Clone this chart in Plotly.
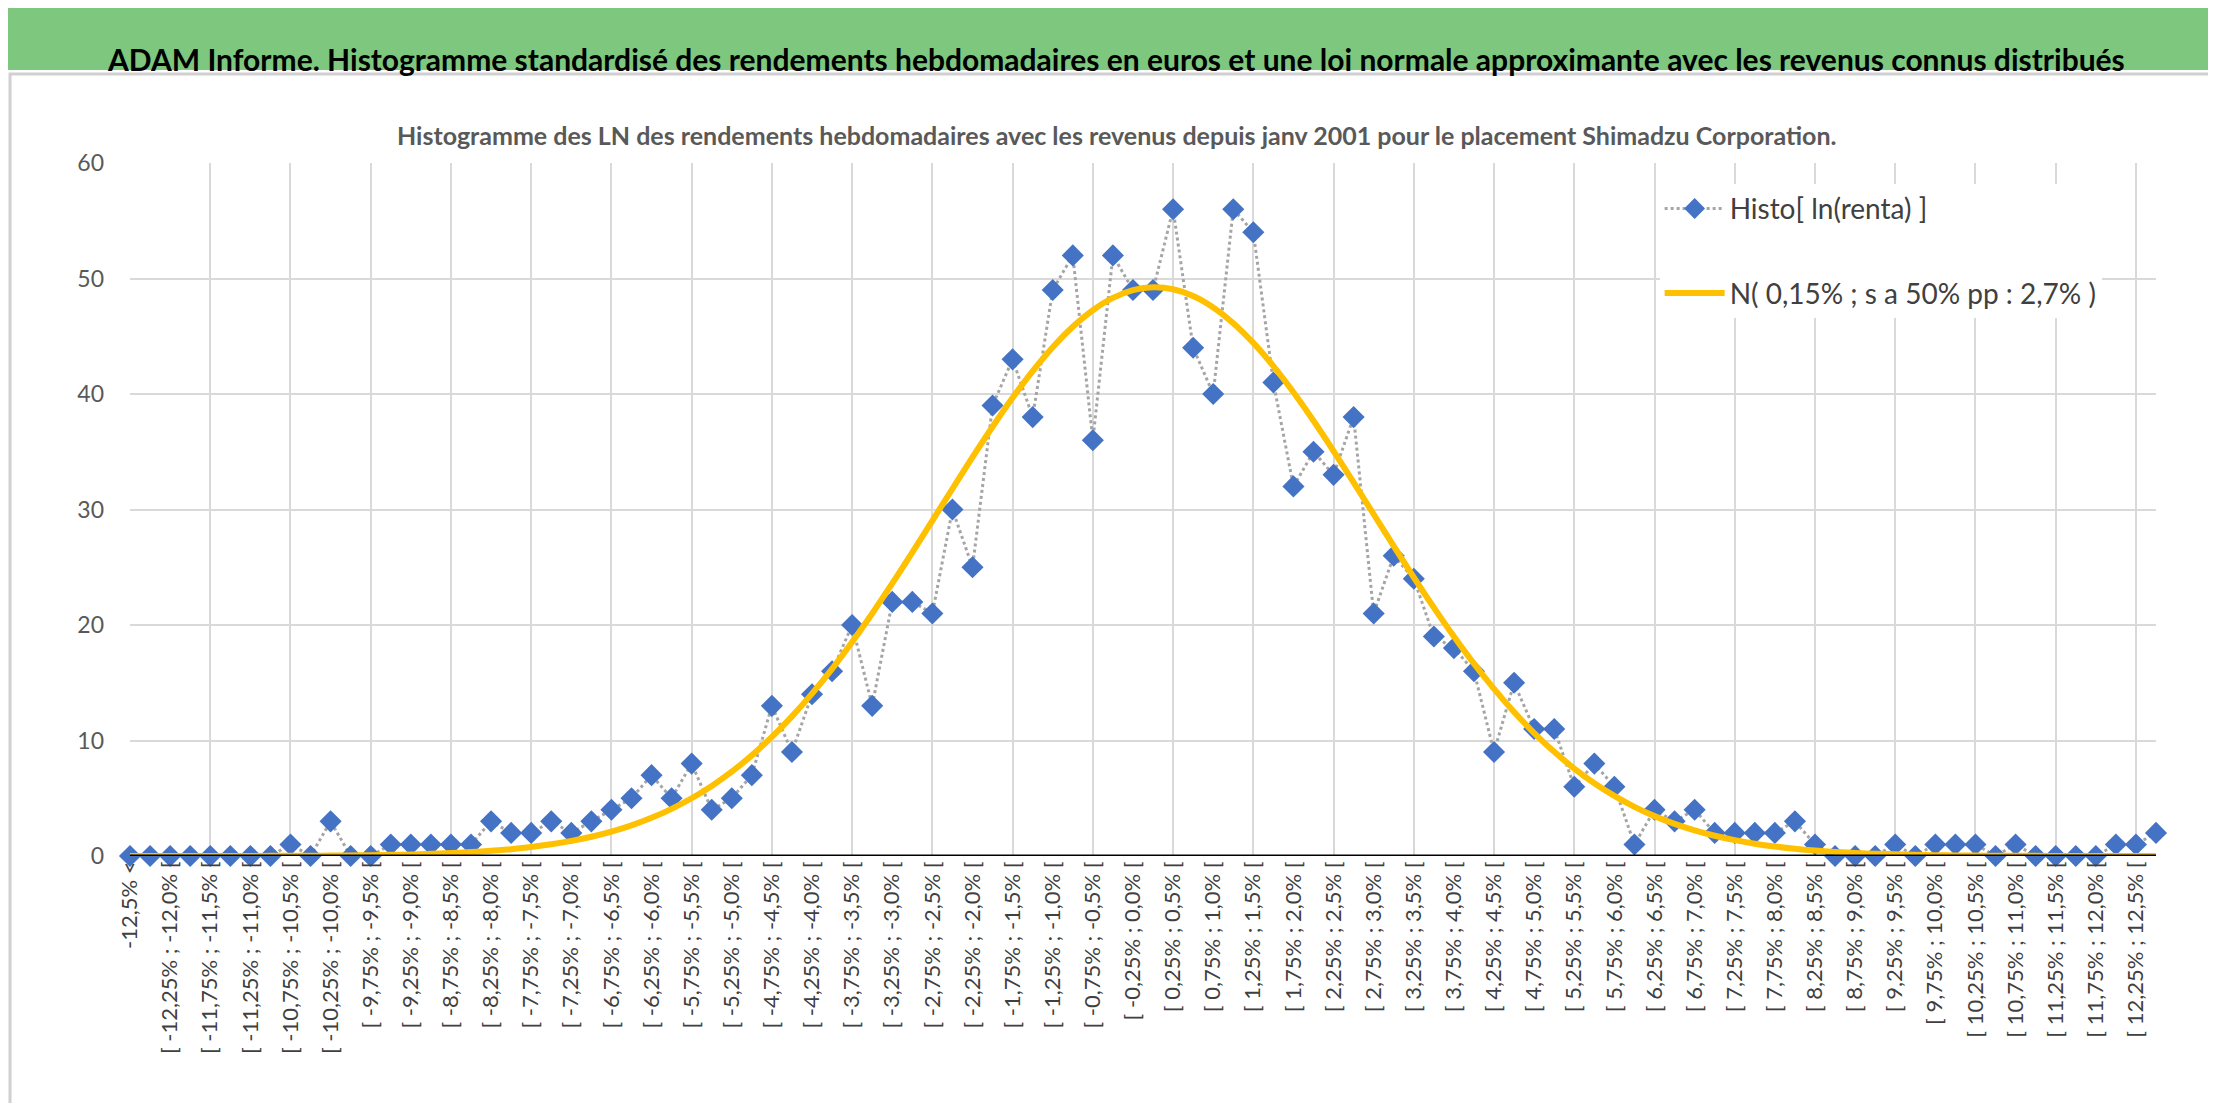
import math
import plotly.graph_objects as go

# categories : bins of 0,25% from -12,5% to 12,5%
def fmt(v):
    return f"{v:.2f}".rstrip('0').rstrip('.').replace('.', ',') if abs(v * 100) % 10 else f"{v:.1f}".replace('.', ',')

bin_starts = [-12.5 + 0.25 * k for k in range(100)]
categories = ["-12,5% &lt;"] + [f"[ {fmt(b)}% ; {fmt(b + 0.25)}% [" for b in bin_starts] + ["12,5% &gt;"]
centers = [-12.5 - 0.125] + [b + 0.125 for b in bin_starts] + [12.5 + 0.125]

histo = [0, 0, 0, 0, 0, 0, 0, 0, 1, 0, 3, 0, 0, 1, 1, 1, 1, 1, 3, 2,
         2, 3, 2, 3, 4, 5, 7, 5, 8, 4, 5, 7, 13, 9, 14, 16, 20, 13, 22, 22,
         21, 30, 25, 39, 43, 38, 49, 52, 36, 52, 49, 49, 56, 44, 40, 56, 54, 41, 32, 35,
         33, 38, 21, 26, 24, 19, 18, 16, 9, 15, 11, 11, 6, 8, 6, 1, 4, 3, 4, 2,
         2, 2, 2, 3, 1, 0, 0, 0, 1, 0, 1, 1, 1, 0, 1, 0, 0, 0, 0, 1,
         1, 2]

mu = 0.15
sigma = 2.7
n_obs = sum(histo)
normal = [n_obs * 0.25 / (sigma * math.sqrt(2 * math.pi)) * math.exp(-((c - mu) ** 2) / (2 * sigma ** 2))
          for c in centers]

xs = list(range(len(categories)))

fig = go.Figure()

fig.add_trace(go.Scatter(
    x=xs, y=histo, mode='lines+markers', name='Histo[ ln(renta) ]', legendgroup='a',
    line=dict(color='#A5A5A5', width=3, dash='dot'),
    marker=dict(symbol='diamond', size=17, color='#4472C4'),
    cliponaxis=False
))
fig.add_trace(go.Scatter(
    x=xs, y=normal, mode='lines', name='N( 0,15% ; s a 50% pp : 2,7% )', legendgroup='b',
    line=dict(color='#FFC000', width=6, shape='spline'),
    cliponaxis=False
))
# invisible trace on overlay axis to carry vertical gridlines
fig.add_trace(go.Scatter(x=xs, y=histo, xaxis='x2', mode='none', showlegend=False, hoverinfo='skip'))

W, H = 2216, 1103
ml, mr, mt, mb = 122, 68, 155, 255
pw, ph = W - ml - mr, H - mt - mb

fig.update_layout(
    width=W, height=H,
    margin=dict(l=ml, r=mr, t=mt, b=mb),
    paper_bgcolor='white', plot_bgcolor='white',
    font=dict(family='Lato', color='#595959'),
    legend=dict(x=0.755, y=0.97, xanchor='left', yanchor='top',
                bgcolor='white', font=dict(size=28, color='#404040'),
                tracegroupgap=45, itemwidth=60, traceorder='grouped'),
    xaxis=dict(range=[0, len(categories) - 1], tickmode='array',
               tickvals=xs[::2], ticktext=categories[::2], tickangle=-90,
               tickfont=dict(size=22, color='#404040'), showgrid=False, zeroline=False,
               ticks='', layer='above traces'),
    xaxis2=dict(range=[0, len(categories) - 1], overlaying='x', tick0=0, dtick=4,
                showgrid=True, gridcolor='#D9D9D9', gridwidth=2, showticklabels=False,
                zeroline=False),
    yaxis=dict(range=[0, 60], dtick=10, showgrid=True, gridcolor='#D9D9D9', gridwidth=2,
               tickfont=dict(size=23, color='#595959'), zeroline=False, ticks='',
               ticklabelstandoff=25),
    shapes=[
        dict(type='rect', xref='paper', yref='paper',
             x0=-ml / pw, x1=1 + mr / pw, y0=1 + (mt - 62) / ph, y1=1 + mt / ph,
             fillcolor='#7DC87E', line=dict(width=0), layer='below'),
        dict(type='line', xref='paper', yref='y', x0=0, x1=1, y0=0, y1=0,
             line=dict(color='black', width=3)),
        dict(type='rect', xref='paper', yref='paper',
             x0=-ml / pw + 0.001, x1=1 + mr / pw - 0.002, y0=-mb / ph + 0.004, y1=1 + (mt - 66) / ph,
             line=dict(color='#D0D0D0', width=3)),
    ],
    annotations=[
        dict(text='<b>ADAM Informe. Histogramme standardisé des rendements hebdomadaires en euros et une loi normale approximante avec les revenus connus distribués</b>',
             xref='paper', yref='paper', x=0.5 - (ml - mr) / 2 / pw, y=1 + (mt - 31) / ph,
             showarrow=False, font=dict(size=30, color='black', family='Lato')),
        dict(text='<b>Histogramme des LN des rendements hebdomadaires avec les revenus depuis janv 2001 pour le placement Shimadzu Corporation.</b>',
             xref='paper', yref='paper', x=0.5 - (ml - mr) / 2 / pw, y=1 + (mt - 110) / ph,
             showarrow=False, font=dict(size=25, color='#595959', family='Lato')),
    ],
)

fig.write_html("out.html")
